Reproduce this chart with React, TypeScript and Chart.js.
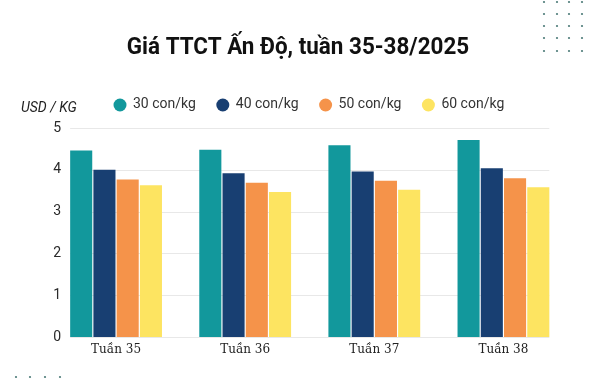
import React, { useEffect, useRef } from "react";
import { Chart, registerables } from "chart.js";

Chart.register(...registerables);

const title = "Giá TTCT Ấn Độ, tuần 35-38/2025";
const unitLabel = "USD / KG";
const categories = ["Tuần 35", "Tuần 36", "Tuần 37", "Tuần 38"];
const seriesLabels = ["30 con/kg", "40 con/kg", "50 con/kg", "60 con/kg"];
const s30 = [4.46, 4.48, 4.59, 4.71];
const s40 = [4.0, 3.92, 3.96, 4.04];
const s50 = [3.77, 3.69, 3.74, 3.8];
const s60 = [3.63, 3.47, 3.52, 3.58];
const colors = ["#12989c", "#183f72", "#f5934a", "#fde461"];
const yTicks = [0, 1, 2, 3, 4, 5];

const W = 595;
const H = 380;

export default function App() {
  const ref = useRef<HTMLCanvasElement | null>(null);

  useEffect(() => {
    if (!ref.current) return;
    const overlay = {
      id: "overlay",
      beforeDatasetsDraw(chart: any) {
        const ctx = chart.ctx;
        const y = chart.scales.y;
        const first = chart.getDatasetMeta(0).data[0];
        const lastMeta = chart.getDatasetMeta(chart.data.datasets.length - 1);
        const last = lastMeta.data[lastMeta.data.length - 1];
        const x0 = first.x - first.width / 2;
        const x1 = last.x + last.width / 2;
        ctx.save();
        ctx.strokeStyle = "#e8e8e8";
        ctx.lineWidth = 1;
        yTicks.forEach((v) => {
          const py = Math.round(y.getPixelForValue(v)) + 0.5;
          ctx.beginPath();
          ctx.moveTo(x0, py);
          ctx.lineTo(x1, py);
          ctx.stroke();
        });
        // y tick labels
        ctx.fillStyle = "#2a2a2a";
        ctx.font = "14px Roboto, sans-serif";
        ctx.textAlign = "right";
        ctx.textBaseline = "middle";
        yTicks.forEach((v) => {
          ctx.fillText(String(v), 61, y.getPixelForValue(v));
        });
        ctx.restore();
      },
      afterDraw(chart: any) {
        const ctx = chart.ctx;
        ctx.save();
        // title
        ctx.fillStyle = "#111111";
        ctx.font = "bold 24px Roboto, sans-serif";
        ctx.textAlign = "center";
        ctx.textBaseline = "alphabetic";
        ctx.save();
        ctx.translate(298, 54);
        ctx.scale(0.935, 1);
        ctx.fillText(title, 0, 0);
        ctx.restore();
        // unit
        ctx.font = "italic 14px Roboto, sans-serif";
        ctx.fillStyle = "#222222";
        ctx.textAlign = "left";
        ctx.textBaseline = "middle";
        ctx.fillText(unitLabel, 21, 108);
        // legend
        ctx.font = "14px Roboto, sans-serif";
        seriesLabels.forEach((lab, i) => {
          const cx = 120 + i * 102.8;
          ctx.fillStyle = colors[i];
          ctx.beginPath();
          ctx.arc(cx, 105, 6.5, 0, Math.PI * 2);
          ctx.fill();
          ctx.fillStyle = "#333333";
          ctx.fillText(lab, cx + 13, 104.5);
        });
        // dots
        ctx.fillStyle = "#4d7b79";
        const dx = [544, 557, 569, 582];
        const dy = [2, 14, 26, 38, 51];
        dy.forEach((yy) =>
          dx.forEach((xx) => {
            ctx.beginPath();
            ctx.arc(xx, yy, 1.1, 0, Math.PI * 2);
            ctx.fill();
          })
        );
        [16, 30, 45, 60].forEach((xx) => {
          ctx.beginPath();
          ctx.arc(xx, 377, 1.1, 0, Math.PI * 2);
          ctx.fill();
        });
        ctx.restore();
      },
    };

    const data = [s30, s40, s50, s60];
    const chart = new Chart(ref.current, {
      type: "bar",
      data: {
        labels: categories,
        datasets: seriesLabels.map((l, i) => ({
          label: l,
          data: data[i],
          backgroundColor: colors[i],
          categoryPercentage: 0.72,
          barPercentage: 0.95,
        })),
      },
      options: {
        animation: false,
        responsive: false,
        layout: { padding: { left: 0, right: W - 568, top: 128, bottom: 0 } },
        plugins: { legend: { display: false }, title: { display: false }, tooltip: { enabled: false } },
        scales: {
          x: {
            grid: { display: false, drawTicks: false },
            border: { display: false },
            ticks: {
              padding: 6,
              color: "#222222",
              font: { family: "'DejaVu Serif', serif", size: 12 },
            },
            afterFit(scale: any) {
              scale.height = H - 337;
            },
          },
          y: {
            min: 0,
            max: 5,
            grid: { display: false, drawTicks: false },
            border: { display: false },
            ticks: { stepSize: 1, display: false },
            afterFit(scale: any) {
              scale.width = 51.5;
            },
          },
        },
      },
      plugins: [overlay],
    } as any);
    return () => chart.destroy();
  }, []);

  return (
    <div style={{ position: "fixed", left: 0, top: 0, width: W, height: H, background: "#ffffff" }}>
      <canvas ref={ref} width={W} height={H} style={{ width: W, height: H, display: "block" }} />
    </div>
  );
}
